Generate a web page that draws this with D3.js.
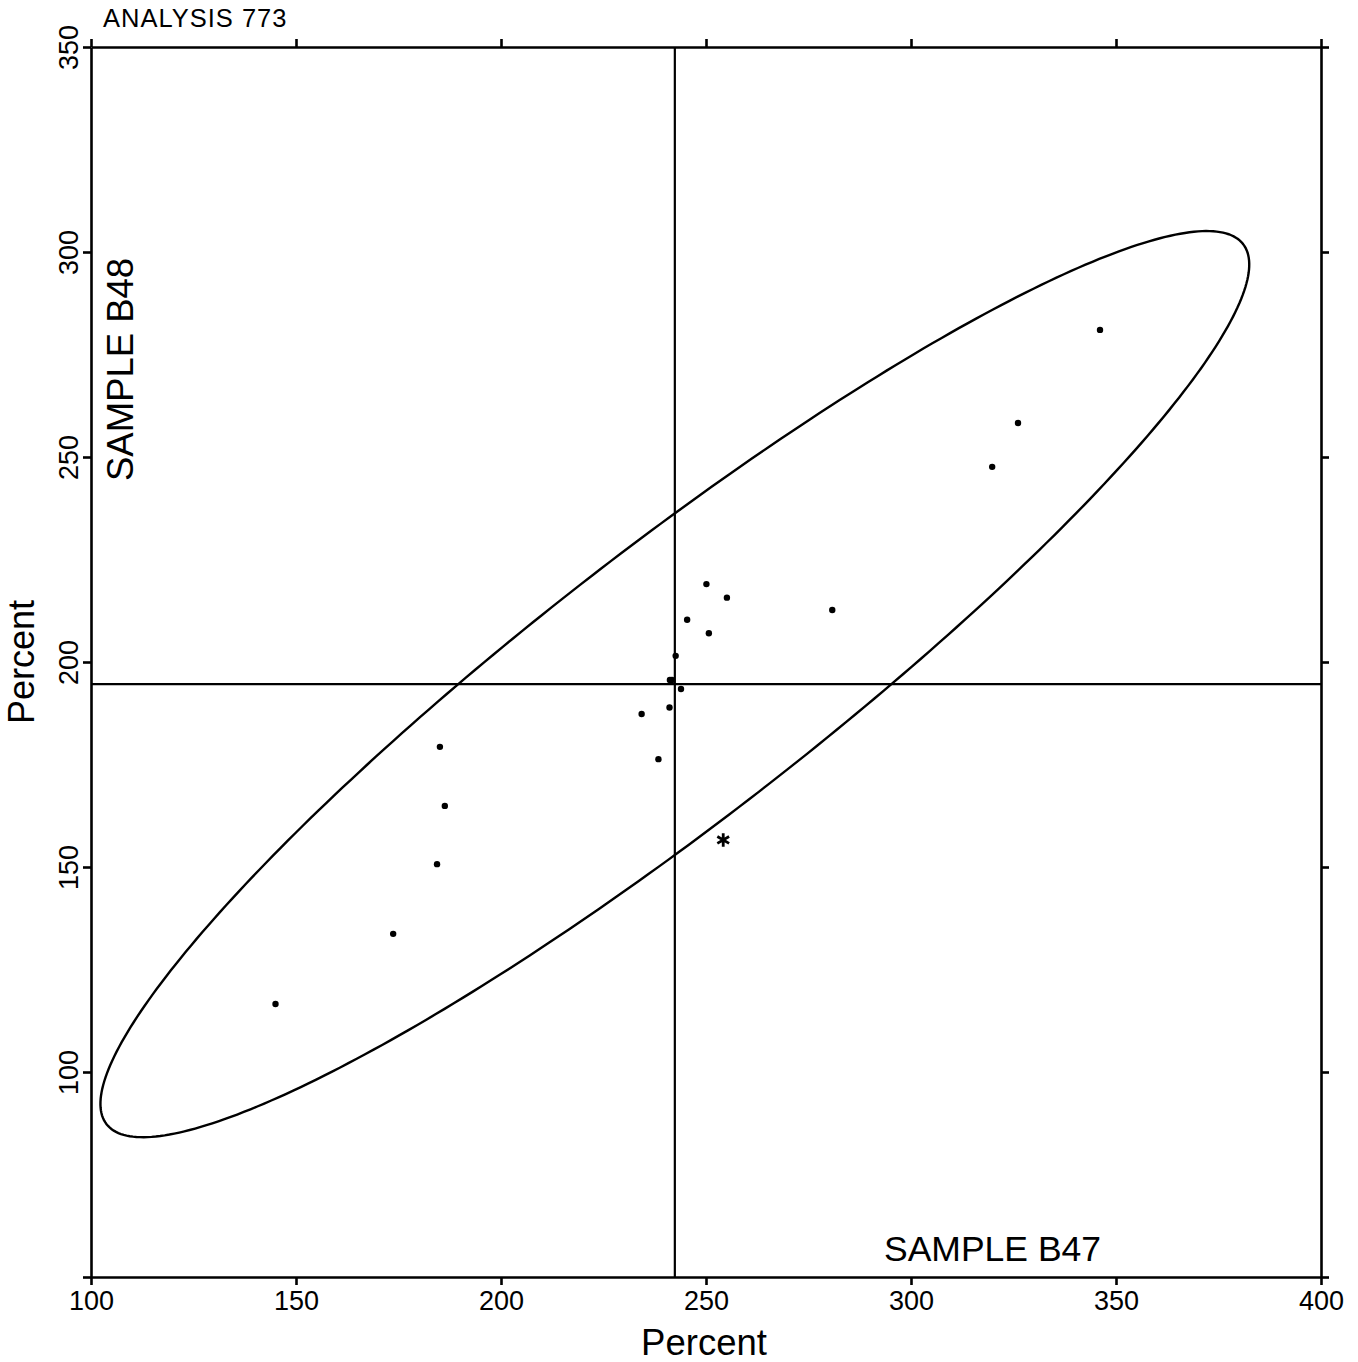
<!DOCTYPE html>
<html>
<head>
<meta charset="utf-8">
<script src="https://cdn.jsdelivr.net/npm/d3@7"></script>
<style>
  html, body { margin: 0; padding: 0; background: #fff; }
  svg { display: block; }
  text { font-family: "Liberation Sans", Arial, Helvetica, sans-serif; fill: #000; }
</style>
</head>
<body>
<svg id="chart" width="1358" height="1362"></svg>
<script>
// ---- data ----
const xValues = [145.0, 173.7, 184.4, 186.3, 185.1, 234.3, 238.4, 241.1, 241.2, 241.7, 243.9, 242.6, 245.4, 250.7, 250.1, 255.1, 280.8, 319.8, 326.1, 346.1];
const yValues = [116.6, 133.7, 150.7, 164.9, 179.3, 187.3, 176.3, 188.9, 195.6, 195.6, 193.4, 201.5, 210.3, 207.0, 219.0, 215.7, 212.7, 247.6, 258.3, 281.0];
const outlierX = [254.2];
const outlierY = [156.6];
const meanX = 242.4;
const meanY = 194.6;
// ellipse: center, semi-axes (data units), rotation (degrees)
const ellipseCenter = [242.4, 194.6];
const ellipseAxes = [175.3, 33.3];
const ellipseAngle = 37.75;
const xTicks = [100, 150, 200, 250, 300, 350, 400];
const yTicks = [50, 100, 150, 200, 250, 300, 350];
const xDomain = [100, 400];
const yDomain = [50, 350];
const titleText = "ANALYSIS 773";
const xLabelText = "Percent";
const yLabelText = "Percent";
const xSampleText = "SAMPLE B47";
const ySampleText = "SAMPLE B48";

// ---- layout ----
const margin = { left: 91, top: 47 };
const W = 1230, H = 1230;
const svg = d3.select("#chart");
const g = svg.append("g").attr("transform", `translate(${margin.left},${margin.top})`);

const x = d3.scaleLinear().domain(xDomain).range([0, W]);
const y = d3.scaleLinear().domain(yDomain).range([H, 0]);

const axisStroke = 2.6;
const tickLen = 8;
const tickFont = "27px";

function styleAxis(sel) {
  sel.select(".domain").attr("stroke", "#000").attr("stroke-width", axisStroke);
  sel.selectAll(".tick line").attr("stroke", "#000").attr("stroke-width", axisStroke);
}

// bottom axis
const gx = g.append("g").attr("transform", `translate(0,${H})`)
  .call(d3.axisBottom(x).tickValues(xTicks).tickSize(tickLen).tickSizeOuter(0).tickFormat(d3.format("d")));
styleAxis(gx);
gx.selectAll(".tick text").attr("y", 33).attr("dy", null)
  .style("font-size", tickFont).style("font-family", "'Liberation Sans', Arial, sans-serif");

// top axis
const gxt = g.append("g")
  .call(d3.axisTop(x).tickValues(xTicks).tickSize(tickLen).tickSizeOuter(0).tickFormat(""));
styleAxis(gxt);

// left axis
const gy = g.append("g")
  .call(d3.axisLeft(y).tickValues(yTicks).tickSize(tickLen).tickSizeOuter(0)
    .tickFormat(d => d === 50 ? "" : d3.format("d")(d)));
styleAxis(gy);
gy.selectAll(".tick text")
  .attr("x", null).attr("dy", null)
  .attr("transform", "translate(-13,0) rotate(-90)")
  .attr("text-anchor", "middle")
  .style("font-size", tickFont).style("font-family", "'Liberation Sans', Arial, sans-serif");

// right axis
const gyr = g.append("g").attr("transform", `translate(${W},0)`)
  .call(d3.axisRight(y).tickValues(yTicks).tickSize(tickLen).tickSizeOuter(0).tickFormat(""));
styleAxis(gyr);

// crosshair at means
g.append("line")
  .attr("x1", x(meanX)).attr("x2", x(meanX)).attr("y1", 0).attr("y2", H)
  .attr("stroke", "#000").attr("stroke-width", 2.2);
g.append("line")
  .attr("x1", 0).attr("x2", W).attr("y1", y(meanY)).attr("y2", y(meanY))
  .attr("stroke", "#000").attr("stroke-width", 2.2);

// ellipse
const th = ellipseAngle * Math.PI / 180;
const ellPts = d3.range(0, 360, 1).map(deg => {
  const t = deg * Math.PI / 180;
  const ex = ellipseCenter[0] + ellipseAxes[0] * Math.cos(t) * Math.cos(th) - ellipseAxes[1] * Math.sin(t) * Math.sin(th);
  const ey = ellipseCenter[1] + ellipseAxes[0] * Math.cos(t) * Math.sin(th) + ellipseAxes[1] * Math.sin(t) * Math.cos(th);
  return [ex, ey];
});
g.append("path")
  .attr("d", d3.line().x(d => x(d[0])).y(d => y(d[1])).curve(d3.curveLinearClosed)(ellPts))
  .attr("fill", "none").attr("stroke", "#000").attr("stroke-width", 2.4);

// points
g.selectAll("circle.pt").data(xValues.map((v, i) => [v, yValues[i]]))
  .join("circle").attr("class", "pt")
  .attr("cx", d => x(d[0])).attr("cy", d => y(d[1])).attr("r", 3.2).attr("fill", "#000");

// outlier asterisk
g.selectAll("path.out").data(outlierX.map((v, i) => [v, outlierY[i]]))
  .join("path").attr("class", "out")
  .attr("transform", d => `translate(${x(d[0])},${y(d[1])})`)
  .attr("d", d3.symbol().type(d3.symbolAsterisk).size(130))
  .attr("fill", "none").attr("stroke", "#000").attr("stroke-width", 2.8);

// texts
svg.append("text").attr("x", 103).attr("y", 27).style("font-size", "25.5px")
  .style("letter-spacing", "1px").text(titleText);
svg.append("text").attr("x", 704).attr("y", 1355).attr("text-anchor", "middle")
  .style("font-size", "36.5px").text(xLabelText);
svg.append("text").attr("transform", "translate(34,662) rotate(-90)").attr("text-anchor", "middle")
  .style("font-size", "36px").text(yLabelText);
svg.append("text").attr("x", 884).attr("y", 1261).style("font-size", "35.5px").text(xSampleText);
svg.append("text").attr("transform", "translate(133,481) rotate(-90)").style("font-size", "36.5px").text(ySampleText);
</script>
</body>
</html>
